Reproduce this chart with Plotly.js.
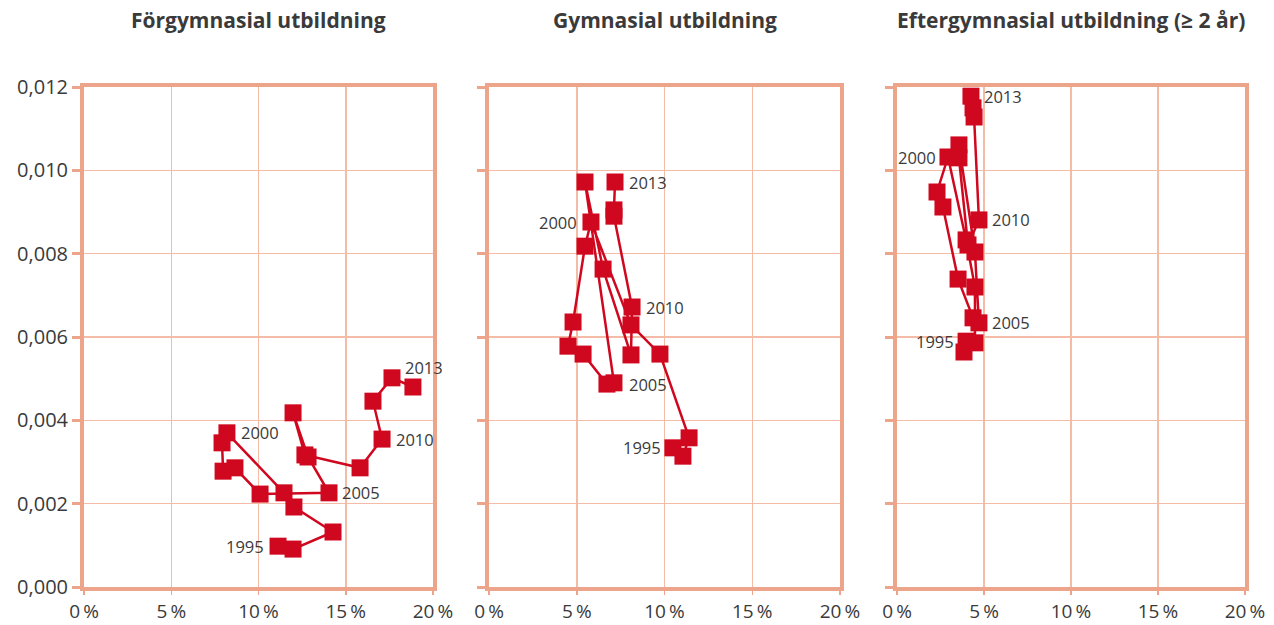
<!DOCTYPE html>
<html>
<head>
<meta charset="utf-8">
<script src="https://cdn.plot.ly/plotly-3.0.1.min.js"></script>
<style>
html,body{margin:0;padding:0;background:#fff;}
#chart{width:1274px;height:625px;}
</style>
</head>
<body>
<div id="chart"></div>
<script>
// ---- data ----
const years = [1995,1996,1997,1998,1999,2000,2001,2002,2003,2004,2005,2006,2007,2008,2009,2010,2011,2012,2013];
const panelTitles = ['Förgymnasial utbildning','Gymnasial utbildning','Eftergymnasial utbildning (≥ 2 år)'];

// x: percent, y: value
const forgymX = [11.12,11.98,14.27,12.03,11.46,8.19,7.91,7.97,8.65,10.09,14.04,12.84,11.98,12.66,15.82,17.08,16.56,17.65,18.85];
const forgymY = [0.00098,0.00091,0.00132,0.00192,0.00226,0.00370,0.00346,0.00278,0.00286,0.00223,0.00226,0.00312,0.00418,0.00317,0.00286,0.00355,0.00446,0.00502,0.00480];

const gymX = [10.48,11.05,11.40,9.74,8.09,5.81,5.47,4.79,4.50,5.36,6.72,7.12,5.47,6.50,8.09,8.15,7.12,7.12,7.18];
const gymY = [0.00334,0.00314,0.00358,0.00559,0.00629,0.00876,0.00818,0.00636,0.00578,0.00559,0.00487,0.00490,0.00972,0.00763,0.00557,0.00672,0.00890,0.00905,0.00972];

const eftX = [3.97,3.85,4.48,4.48,3.97,2.93,2.30,2.64,3.51,4.37,4.71,4.48,3.56,3.56,4.08,4.71,4.43,4.37,4.25];
const eftY = [0.00590,0.00564,0.00586,0.00720,0.00833,0.01032,0.00948,0.00912,0.00739,0.00646,0.00634,0.00804,0.01061,0.01030,0.00821,0.00881,0.01128,0.01150,0.01178];

const labelYears = [1995,2000,2005,2010,2013];

const xTickVals = [0,5,10,15,20];
const xTickText = ['0\u2009%','5\u2009%','10\u2009%','15\u2009%','20\u2009%'];
const yTickVals = [0,0.002,0.004,0.006,0.008,0.010,0.012];
const yTickText = ['0,000','0,002','0,004','0,006','0,008','0,010','0,012'];

// ---- styling / layout ----
const red = '#d0081f';
const frame = '#eca58b';
const grid = '#f4bba6';
const textCol = '#3a3a3a';

const series = [[forgymX,forgymY],[gymX,gymY],[eftX,eftY]];
const domains = [[84/1274,433/1274],[489/1274,840/1274],[897/1274,1245/1274]];

// label placement per panel: [xshift, yshift, anchor]
const labelPos = [
  {1995:[-12,0,'right'],2000:[12,0,'left'],2005:[11,0,'left'],2010:[12,0,'left'],2013:[-10,20,'left']},
  {1995:[-10,0,'right'],2000:[-12,0,'right'],2005:[20,0,'left'],2010:[12,0,'left'],2013:[12,0,'left']},
  {1995:[-10,0,'right'],2000:[-10,0,'right'],2005:[11,0,'left'],2010:[11,0,'left'],2013:[11,0,'left']}
];

const traces = [];
const annotations = [];
const layout = {
  width:1274, height:625,
  margin:{l:0,r:0,t:87,b:38},
  paper_bgcolor:'#fff', plot_bgcolor:'#fff',
  showlegend:false,
  separators:', ',
  font:{family:'Open Sans, DejaVu Sans, sans-serif', color:textCol}
};

series.forEach((s,i)=>{
  const n = i===0 ? '' : String(i+1);
  traces.push({
    type:'scatter', mode:'lines+markers',
    x:s[0], y:s[1], text:years,
    xaxis:'x'+n, yaxis:'y'+n,
    line:{color:red,width:2.5},
    marker:{symbol:'square',size:17,color:red},
    cliponaxis:false,
    hoverinfo:'text+x+y'
  });
  layout['xaxis'+n] = {
    domain:domains[i], anchor:'y'+n, range:[0,20],
    tickvals:xTickVals, ticktext:xTickText,
    showgrid:true, gridcolor:grid, gridwidth:1.5,
    showline:true, linecolor:frame, linewidth:4, mirror:true,
    ticks:'outside', ticklen:4, tickwidth:1.5, tickcolor:frame,
    tickfont:{size:19,color:textCol,family:'Open Sans, sans-serif'},
    zeroline:false, fixedrange:true, automargin:false
  };
  layout['yaxis'+n] = {
    domain:[0,1], anchor:'x'+n, range:[0,0.012],
    tickvals:yTickVals, ticktext:yTickText,
    showticklabels:i===0,
    showgrid:true, gridcolor:grid, gridwidth:1.5,
    showline:true, linecolor:frame, linewidth:4, mirror:true,
    ticks:'outside', ticklen:8, tickwidth:3, tickcolor:frame,
    tickfont:{size:20,color:textCol,family:'Open Sans, sans-serif'},
    zeroline:false, fixedrange:true, automargin:false
  };
  annotations.push({
    xref:'x'+n+' domain', yref:'paper', x:0.5, y:1, yshift:67,
    xanchor:'center', yanchor:'middle', showarrow:false,
    text:'<b>'+panelTitles[i]+'</b>',
    font:{size:21,color:textCol,family:'Open Sans, sans-serif'}
  });
  labelYears.forEach(yr=>{
    const k = years.indexOf(yr);
    const p = labelPos[i][yr];
    annotations.push({
      xref:'x'+n, yref:'y'+n, x:s[0][k], y:s[1][k],
      xshift:p[0], yshift:p[1], xanchor:p[2], yanchor:'middle',
      showarrow:false, text:String(yr),
      font:{size:16.5,color:textCol,family:'Open Sans, sans-serif'}
    });
  });
});
layout.annotations = annotations;

Plotly.newPlot('chart', traces, layout, {displayModeBar:false, staticPlot:true});
</script>
</body>
</html>
